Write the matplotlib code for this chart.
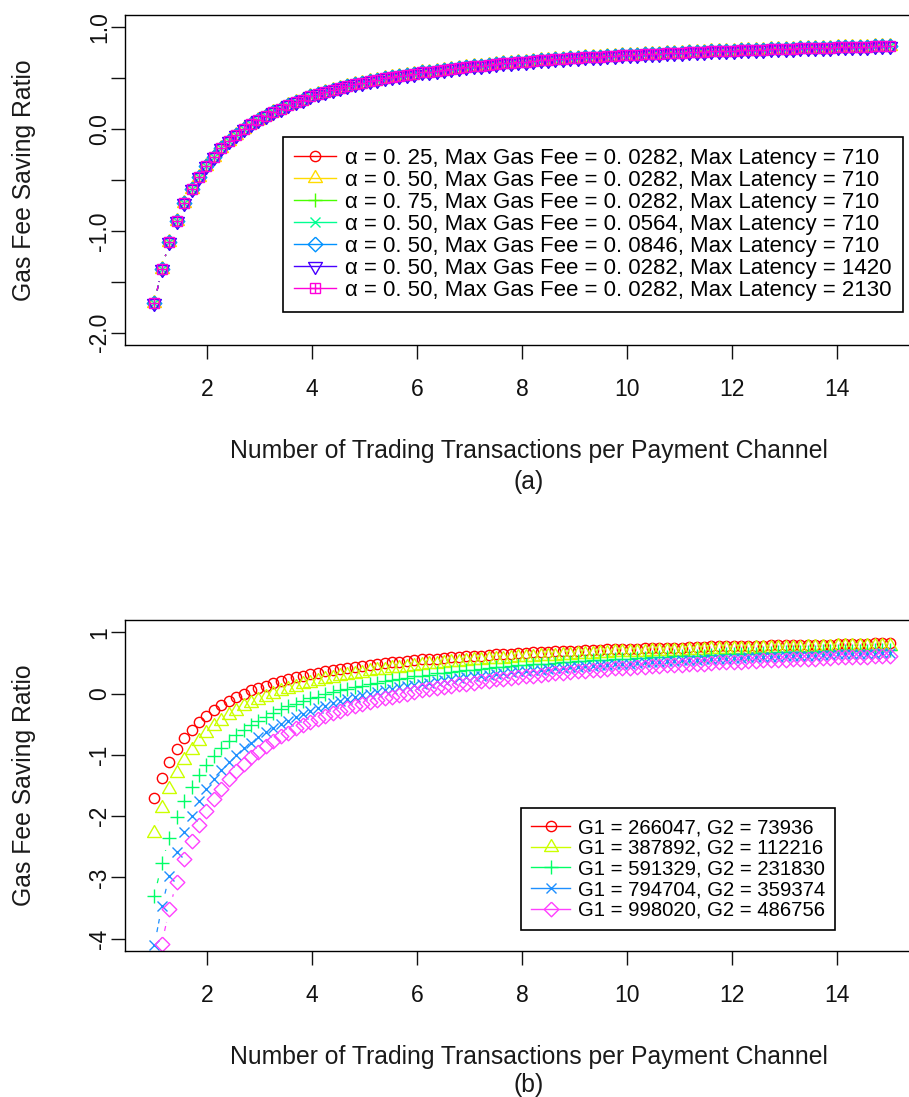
import numpy as np
import matplotlib.pyplot as plt
from matplotlib.lines import Line2D
from matplotlib.collections import LineCollection

plt.rcParams["font.family"] = ["Liberation Sans", "DejaVu Sans"]

# x grid: 100 evenly spaced transaction counts from 1 to 15
n_tx = np.linspace(1, 15, 100)

# panel (a): the seven settings lie on top of each other at this scale
ratio_a = [
    -1.71, -1.37, -1.11, -0.90, -0.73, -0.59, -0.47, -0.36, -0.27, -0.19,
    -0.12, -0.06, 0.00, 0.05, 0.09, 0.13, 0.17, 0.20, 0.24, 0.27,
    0.29, 0.32, 0.34, 0.36, 0.38, 0.40, 0.42, 0.44, 0.45, 0.47,
    0.48, 0.50, 0.51, 0.52, 0.53, 0.54, 0.56, 0.56, 0.57, 0.58,
    0.59, 0.60, 0.61, 0.62, 0.62, 0.63, 0.64, 0.65, 0.65, 0.66,
    0.66, 0.67, 0.68, 0.68, 0.69, 0.69, 0.70, 0.70, 0.71, 0.71,
    0.71, 0.72, 0.72, 0.73, 0.73, 0.73, 0.74, 0.74, 0.74, 0.75,
    0.75, 0.75, 0.76, 0.76, 0.76, 0.77, 0.77, 0.77, 0.77, 0.78,
    0.78, 0.78, 0.78, 0.79, 0.79, 0.79, 0.79, 0.80, 0.80, 0.80,
    0.80, 0.80, 0.81, 0.81, 0.81, 0.81, 0.81, 0.82, 0.82, 0.82,
]
labels_a = [
    "α = 0. 25, Max Gas Fee = 0. 0282, Max Latency = 710",
    "α = 0. 50, Max Gas Fee = 0. 0282, Max Latency = 710",
    "α = 0. 75, Max Gas Fee = 0. 0282, Max Latency = 710",
    "α = 0. 50, Max Gas Fee = 0. 0564, Max Latency = 710",
    "α = 0. 50, Max Gas Fee = 0. 0846, Max Latency = 710",
    "α = 0. 50, Max Gas Fee = 0. 0282, Max Latency = 1420",
    "α = 0. 50, Max Gas Fee = 0. 0282, Max Latency = 2130",
]
series_a = [ratio_a] * 7

# panel (b)
ratio_g2 = [
    -2.27, -1.86, -1.55, -1.30, -1.09, -0.92, -0.77, -0.64, -0.53, -0.44,
    -0.35, -0.28, -0.21, -0.15, -0.10, -0.05, 0.00, 0.04, 0.08, 0.11,
    0.15, 0.18, 0.20, 0.23, 0.26, 0.28, 0.30, 0.32, 0.34, 0.36,
    0.38, 0.39, 0.41, 0.42, 0.44, 0.45, 0.46, 0.48, 0.49, 0.50,
    0.51, 0.52, 0.53, 0.54, 0.55, 0.56, 0.56, 0.57, 0.58, 0.59,
    0.59, 0.60, 0.61, 0.62, 0.62, 0.63, 0.63, 0.64, 0.64, 0.65,
    0.66, 0.66, 0.67, 0.67, 0.67, 0.68, 0.68, 0.69, 0.69, 0.70,
    0.70, 0.70, 0.71, 0.71, 0.71, 0.72, 0.72, 0.72, 0.73, 0.73,
    0.73, 0.74, 0.74, 0.74, 0.75, 0.75, 0.75, 0.75, 0.76, 0.76,
    0.76, 0.76, 0.77, 0.77, 0.77, 0.77, 0.78, 0.78, 0.78, 0.78,
]
ratio_g3 = [
    -3.30, -2.77, -2.35, -2.02, -1.75, -1.52, -1.33, -1.16, -1.02, -0.89,
    -0.78, -0.68, -0.59, -0.51, -0.44, -0.38, -0.32, -0.26, -0.21, -0.17,
    -0.12, -0.08, -0.05, -0.01, 0.02, 0.05, 0.08, 0.11, 0.13, 0.16,
    0.18, 0.20, 0.22, 0.24, 0.26, 0.28, 0.29, 0.31, 0.33, 0.34,
    0.35, 0.37, 0.38, 0.39, 0.40, 0.42, 0.43, 0.44, 0.45, 0.46,
    0.47, 0.48, 0.49, 0.49, 0.50, 0.51, 0.52, 0.53, 0.53, 0.54,
    0.55, 0.55, 0.56, 0.57, 0.57, 0.58, 0.58, 0.59, 0.59, 0.60,
    0.61, 0.61, 0.62, 0.62, 0.62, 0.63, 0.63, 0.64, 0.64, 0.65,
    0.65, 0.65, 0.66, 0.66, 0.67, 0.67, 0.67, 0.68, 0.68, 0.68,
    0.69, 0.69, 0.69, 0.70, 0.70, 0.70, 0.70, 0.71, 0.71, 0.71,
]
ratio_g4 = [
    -4.10, -3.47, -2.98, -2.58, -2.26, -1.99, -1.76, -1.56, -1.39, -1.24,
    -1.11, -1.00, -0.89, -0.80, -0.71, -0.63, -0.56, -0.50, -0.44, -0.38,
    -0.33, -0.28, -0.24, -0.20, -0.16, -0.12, -0.09, -0.06, -0.03, 0.00,
    0.03, 0.05, 0.08, 0.10, 0.12, 0.14, 0.16, 0.18, 0.20, 0.22,
    0.23, 0.25, 0.27, 0.28, 0.29, 0.31, 0.32, 0.33, 0.35, 0.36,
    0.37, 0.38, 0.39, 0.40, 0.41, 0.42, 0.43, 0.44, 0.45, 0.45,
    0.46, 0.47, 0.48, 0.49, 0.49, 0.50, 0.51, 0.51, 0.52, 0.53,
    0.53, 0.54, 0.54, 0.55, 0.56, 0.56, 0.57, 0.57, 0.58, 0.58,
    0.59, 0.59, 0.60, 0.60, 0.60, 0.61, 0.61, 0.62, 0.62, 0.62,
    0.63, 0.63, 0.64, 0.64, 0.64, 0.65, 0.65, 0.65, 0.66, 0.66,
]
ratio_g5 = [
    -4.80, -4.08, -3.52, -3.07, -2.70, -2.40, -2.14, -1.91, -1.72, -1.55,
    -1.40, -1.27, -1.15, -1.04, -0.95, -0.86, -0.78, -0.70, -0.64, -0.57,
    -0.51, -0.46, -0.41, -0.36, -0.32, -0.28, -0.24, -0.20, -0.17, -0.14,
    -0.11, -0.08, -0.05, -0.02, 0.00, 0.02, 0.05, 0.07, 0.09, 0.11,
    0.13, 0.15, 0.16, 0.18, 0.20, 0.21, 0.23, 0.24, 0.26, 0.27,
    0.28, 0.29, 0.31, 0.32, 0.33, 0.34, 0.35, 0.36, 0.37, 0.38,
    0.39, 0.40, 0.41, 0.41, 0.42, 0.43, 0.44, 0.45, 0.45, 0.46,
    0.47, 0.47, 0.48, 0.49, 0.49, 0.50, 0.51, 0.51, 0.52, 0.52,
    0.53, 0.53, 0.54, 0.54, 0.55, 0.55, 0.56, 0.56, 0.57, 0.57,
    0.58, 0.58, 0.59, 0.59, 0.59, 0.60, 0.60, 0.61, 0.61, 0.61,
]
labels_b = [
    "G1 = 266047, G2 = 73936",
    "G1 = 387892, G2 = 112216",
    "G1 = 591329, G2 = 231830",
    "G1 = 794704, G2 = 359374",
    "G1 = 998020, G2 = 486756",
]
series_b = [ratio_a, ratio_g2, ratio_g3, ratio_g4, ratio_g5]

XLABEL = "Number of Trading Transactions per Payment Channel"
YLABEL = "Gas Fee Saving Ratio"

# R-like open symbols
TRI_UP = [(0, 1), (-0.866, -0.5), (0.866, -0.5), (0, 1)]
TRI_DN = [(0, -1), (-0.866, 0.5), (0.866, 0.5), (0, -1)]
DIAMOND = [(0, 1), (1, 0), (0, -1), (-1, 0), (0, 1)]

# (color, [(marker, size), ...])
styles_a = [
    ("#FF0000", [("o", 7.4)]),
    ("#FFDB00", [(TRI_UP, 11.5)]),
    ("#49FF00", [("+", 10.5)]),
    ("#00FF92", [("x", 7.4)]),
    ("#0092FF", [(DIAMOND, 10.5)]),
    ("#4900FF", [(TRI_DN, 11.5)]),
    ("#FF00DB", [("s", 6.8), ("+", 6.8)]),
]
styles_b = [
    ("#FF0000", [("o", 7.4)]),
    ("#CCFF00", [(TRI_UP, 11.5)]),
    ("#00FF66", [("+", 10.5)]),
    ("#1E8FFF", [("x", 7.4)]),
    ("#FF40FF", [(DIAMOND, 10.5)]),
]

PX = 1 / 909, 1 / 1097
fig = plt.figure(figsize=(9.09, 10.97), dpi=100)
ax_a = fig.add_axes([125 * PX[0], 1 - 345 * PX[1], 794 * PX[0], 330 * PX[1]])
ax_b = fig.add_axes([125 * PX[0], 1 - 951 * PX[1], 794 * PX[0], 331 * PX[1]])


def gap_lines(ax, x, y, color, gap=13):
    # type="b": segments between points, with a gap around each symbol
    pts = ax.transData.transform(np.column_stack([x, y]))
    inv = ax.transData.inverted()
    segs = []
    for p0, p1 in zip(pts[:-1], pts[1:]):
        d = p1 - p0
        length = np.hypot(*d)
        if length > 2 * gap:
            u = d / length
            segs.append(inv.transform(np.array([p0 + u * gap, p1 - u * gap])))
    if segs:
        ax.add_collection(LineCollection(segs, colors=color, linewidths=0.9,
                                         linestyles=(0, (4, 3))))


def draw_panel(ax, series, styles, labels, ylim, yticks, ylabels, leg_anchor, leg_size, leg_space):
    ax.set_xlim(0.44, 15.56)
    ax.set_ylim(*ylim)
    handles = []
    for vals, (color, marks), lab in zip(series, styles, labels):
        gap_lines(ax, n_tx, vals, color)
        parts = []
        for j, (m, ms) in enumerate(marks):
            ax.plot(n_tx, vals, linestyle="none", marker=m, ms=ms, mfc="none",
                    mec=color, mew=1.0)
            parts.append(Line2D([], [], color=color, lw=1.0 if j == 0 else 0,
                                marker=m, ms=ms, mfc="none", mec=color, mew=1.0))
        handles.append(tuple(parts) if len(parts) > 1 else parts[0])
    ax.set_xticks([2, 4, 6, 8, 10, 12, 14])
    ax.set_yticks(yticks)
    ax.set_yticklabels(ylabels, rotation=90, va="center")
    ax.tick_params(direction="out", length=10, width=1.0, labelsize=16.5,
                   pad=0.0, colors="#111111")
    ax.tick_params(axis="x", pad=13.5)
    for sp in ax.spines.values():
        sp.set_linewidth(1.0)
    leg = ax.legend(handles, labels, loc="upper left", bbox_to_anchor=leg_anchor,
                    fontsize=leg_size, handlelength=1.9, handletextpad=0.4,
                    labelspacing=leg_space, borderpad=0.5, borderaxespad=0,
                    fancybox=False, framealpha=1, edgecolor="black")
    leg.get_frame().set_linewidth(1.2)


draw_panel(ax_a, series_a, styles_a, labels_a, (-2.12, 1.12),
           [-2, -1.5, -1, -0.5, 0, 0.5, 1],
           ["-2.0", "", "-1.0", "", "0.0", "", "1.0"],
           (0.199, 0.630), 16, 0.04)
draw_panel(ax_b, series_b, styles_b, labels_b, (-4.2, 1.2),
           [-4, -3, -2, -1, 0, 1],
           ["-4", "-3", "-2", "-1", "0", "1"],
           (0.499, 0.432), 14.6, 0.08)

for yc, xl_y, tag_y, tag in [(180, 451, 482, "(a)"), (785, 1057, 1085, "(b)")]:
    fig.text(24 * PX[0], 1 - yc * PX[1], YLABEL, rotation=90, ha="center",
             va="center", fontsize=17.8, color="#1a1a1a")
    fig.text(529 * PX[0], 1 - xl_y * PX[1], XLABEL, ha="center", va="center",
             fontsize=17.8, color="#1a1a1a")
    fig.text(529 * PX[0], 1 - tag_y * PX[1], tag, ha="center", va="center",
             fontsize=17.8, color="#1a1a1a")

fig.savefig("out.png", dpi=100)
